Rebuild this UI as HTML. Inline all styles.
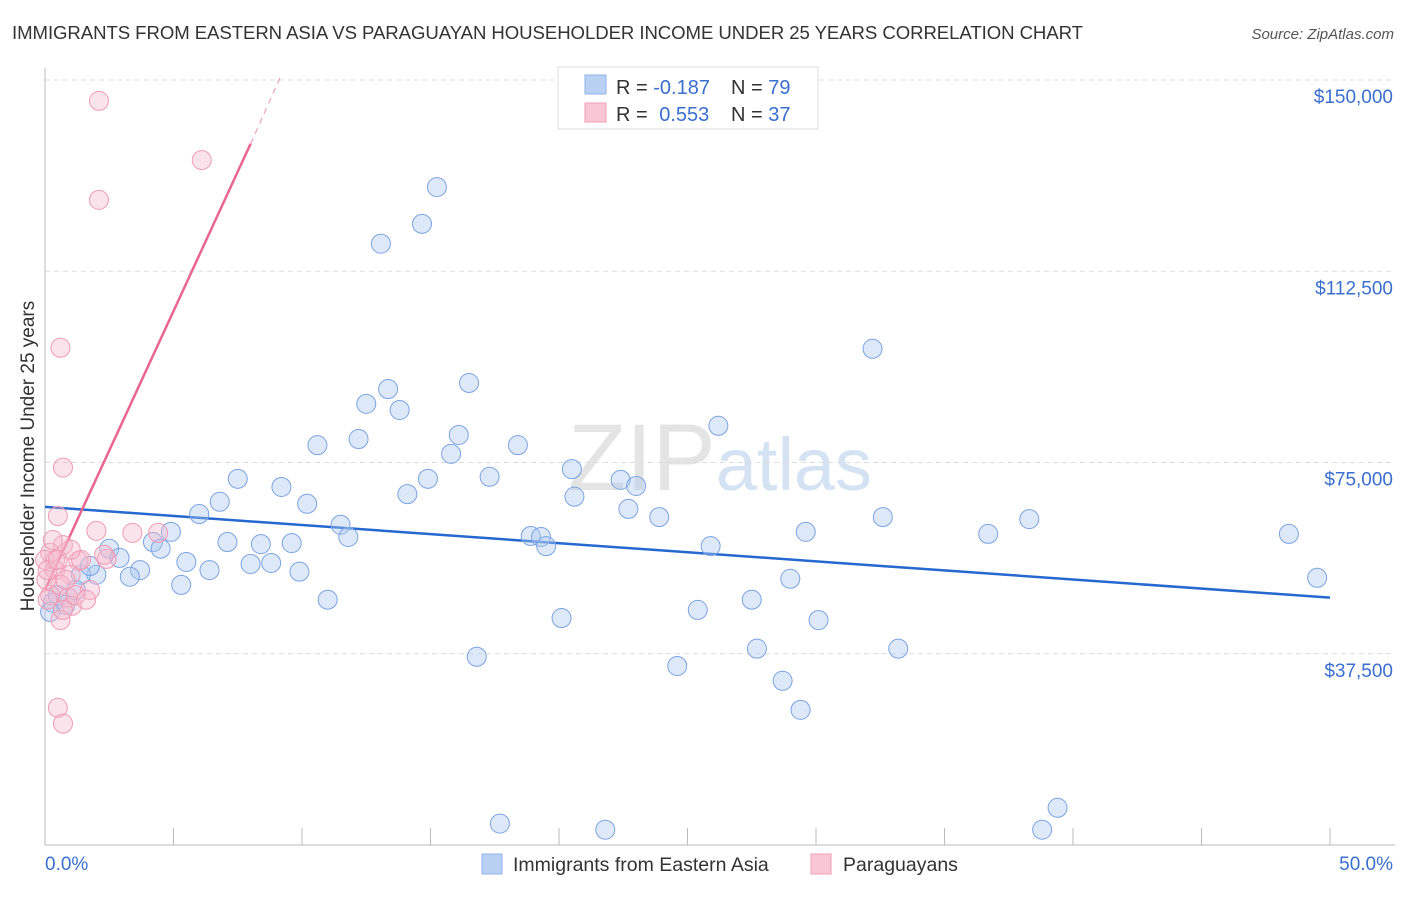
<!DOCTYPE html>
<html><head><meta charset="utf-8"><style>
body{margin:0;background:#fff;font-family:"Liberation Sans",sans-serif;}
svg text{font-family:"Liberation Sans",sans-serif;}
</style></head><body>
<svg id="chart" width="1406" height="892" viewBox="0 0 1406 892" xmlns="http://www.w3.org/2000/svg">
<text x="12" y="39" font-size="18.6" fill="#333" textLength="1071">IMMIGRANTS FROM EASTERN ASIA VS PARAGUAYAN HOUSEHOLDER INCOME UNDER 25 YEARS CORRELATION CHART</text>
<text x="1394" y="39" font-size="15" fill="#555" text-anchor="end" font-style="italic">Source: ZipAtlas.com</text>
<text x="720" y="490" font-size="95" fill="#e4e4e4" text-anchor="middle" font-family="Liberation Serif">ZIP<tspan fill="#d4e2f4" font-family="Liberation Sans" font-size="74">atlas</tspan></text>
<g id="grid"></g>
<g id="axes"></g>
<g id="trend"></g>
<g id="pts"></g>
<text transform="translate(34,456) rotate(-90)" font-size="19" fill="#333" text-anchor="middle">Householder Income Under 25 years</text>
<g>
<rect x="558" y="67" width="260" height="62" fill="#fff" stroke="#ddd"/>
<rect x="585" y="75" width="21" height="19" fill="#b8d1f3" stroke="#8fb2e6"/>
<rect x="585" y="103" width="21" height="19" fill="#f9c6d5" stroke="#ef9fb6"/>
<text x="616" y="94" font-size="20" fill="#333">R = <tspan fill="#3a6fd0">-0.187</tspan><tspan x="731">N = </tspan><tspan fill="#3a6fd0">79</tspan></text>
<text x="616" y="121" font-size="20" fill="#333">R = <tspan fill="#3a6fd0" dx="6">0.553</tspan><tspan x="731">N = </tspan><tspan fill="#3a6fd0">37</tspan></text>
</g>
<g>
<rect x="482" y="854" width="20" height="20" fill="#b8d1f3" stroke="#8fb2e6"/>
<text x="513" y="871" font-size="19.5" fill="#333">Immigrants from Eastern Asia</text>
<rect x="811" y="854" width="20" height="20" fill="#f9c6d5" stroke="#ef9fb6"/>
<text x="843" y="871" font-size="19.5" fill="#333">Paraguayans</text>
</g>
</svg>
<script>
const yTicks=[37500,75000,112500,150000];
const yTickLabels=["$37,500","$75,000","$112,500","$150,000"];
const xTickLabels=["0.0%","50.0%"];
const blueX=[15.25,14.67,13.07,32.2,13.35,16.5,12.5,13.8,10.6,12.2,16.1,18.4,15.8,26.2,20.5,7.5,9.2,14.9,17.3,14.1,22.4,23.0,20.6,6.8,10.2,22.7,23.9,6.0,32.6,38.3,11.5,4.9,11.8,18.9,19.3,19.5,25.9,29.6,36.7,48.4,4.2,7.1,8.4,9.6,2.5,4.5,2.9,5.5,8.0,8.8,6.4,9.9,3.7,3.3,2.0,1.4,1.75,5.3,29.0,49.5,11.0,27.5,25.4,20.1,30.1,0.3,0.5,0.8,1.2,0.2,27.7,33.2,16.8,24.6,28.7,29.4,39.4,17.7,21.8,38.8];
const blueY=[129.0,121.8,117.9,97.3,89.4,90.6,86.5,85.3,78.4,79.6,80.4,78.4,76.7,82.2,73.7,71.8,70.2,71.8,72.2,68.8,71.6,70.4,68.3,67.3,66.9,65.9,64.3,64.9,64.3,63.9,62.8,61.4,60.4,60.6,60.4,58.6,58.6,61.4,61.0,61.0,59.4,59.4,59.0,59.2,58.1,58.1,56.3,55.5,55.1,55.3,53.9,53.6,53.9,52.6,53.0,53.0,54.7,51.0,52.2,52.4,48.1,48.1,46.1,44.5,44.1,47.5,49.0,47.1,50.0,45.7,38.5,38.5,36.9,35.1,32.2,26.5,7.3,4.2,3.0,3.0];
const pinkX=[2.1,6.1,2.1,0.6,0.7,0.5,2.0,3.4,4.4,2.4,1.3,0.7,0.2,0.0,0.4,1.0,0.6,0.2,0.9,1.05,0.6,0.05,1.4,2.3,1.75,0.7,0.4,0.1,0.5,0.7,0.1,0.8,0.3,1.2,1.6,0.5,1.0];
const pinkY=[145.9,134.3,126.5,97.5,74.0,64.5,61.6,61.2,61.2,56.1,55.7,58.8,57.3,55.9,53.9,53.0,51.0,49.0,48.5,46.9,44.1,52.0,55.9,56.9,50.0,46.1,55.9,53.9,26.9,23.8,48.1,52.0,59.8,49.0,48.1,55.9,57.9];
const blueTrend=[[0,66.3],[50,48.5]];
const pinkTrend=[[0,50.0],[8.0,137.5]];
const pinkDash=[[8.0,137.5],[9.15,150.5]];
const NS="http://www.w3.org/2000/svg";
const X=p=>45+p*25.7;
const Y=v=>845-v/150000*765;
const Yk=k=>Y(k*1000);
function mk(t,a,parent){const e=document.createElementNS(NS,t);for(const k in a)e.setAttribute(k,a[k]);parent.appendChild(e);return e;}
const grid=document.getElementById('grid'),axes=document.getElementById('axes'),trend=document.getElementById('trend'),pts=document.getElementById('pts');
yTicks.forEach((v,i)=>{
  const l=mk('line',{x1:45,x2:1395,y1:Y(v),y2:Y(v),stroke:'#ddd','stroke-dasharray':'5,4'},grid);
  
  
  const t=mk('text',{x:1393,y:Y(v)+23,'font-size':19,fill:'#3a6fd0','text-anchor':'end'},axes);
  t.textContent=yTickLabels[i];
  
  
});
let a=mk('line',{x1:45,x2:45,y1:68,y2:845,stroke:'#bbb'},axes);


a=mk('line',{x1:45,x2:1395,y1:845,y2:845,stroke:'#bbb'},axes);


for(let i=0;i<=10;i++){
  const tk=mk('line',{x1:X(i*5),x2:X(i*5),y1:828,y2:845,stroke:'#bbb'},axes);
  
  
}
let t=mk('text',{x:45,y:870,'font-size':19,fill:'#3a6fd0'},axes);t.textContent=xTickLabels[0];


t=mk('text',{x:1393,y:870,'font-size':19,fill:'#3a6fd0','text-anchor':'end'},axes);t.textContent=xTickLabels[1];


for(let i=0;i<blueX.length;i++){
  const c=mk('circle',{cx:X(blueX[i]),cy:Yk(blueY[i]),r:9.5,fill:'rgba(170,200,240,0.4)',stroke:'#7ba3e3','stroke-width':1},pts);
  
  
}
for(let i=0;i<pinkX.length;i++){
  const c=mk('circle',{cx:X(pinkX[i]),cy:Yk(pinkY[i]),r:9.5,fill:'rgba(246,184,204,0.4)',stroke:'#ef9bb5','stroke-width':1},pts);
  
  
}
let l=mk('line',{x1:X(blueTrend[0][0]),y1:Yk(blueTrend[0][1]),x2:X(blueTrend[1][0]),y2:Yk(blueTrend[1][1]),stroke:'#2468d0','stroke-width':2.5},trend);


l=mk('line',{x1:X(pinkTrend[0][0]),y1:Yk(pinkTrend[0][1]),x2:X(pinkTrend[1][0]),y2:Yk(pinkTrend[1][1]),stroke:'#e8668f','stroke-width':2.5},trend);


l=mk('line',{x1:X(pinkDash[0][0]),y1:Yk(pinkDash[0][1]),x2:X(pinkDash[1][0]),y2:Yk(pinkDash[1][1]),stroke:'#f0a0b8','stroke-width':1.2,'stroke-dasharray':'6,5'},trend);


</script>
</body></html>
